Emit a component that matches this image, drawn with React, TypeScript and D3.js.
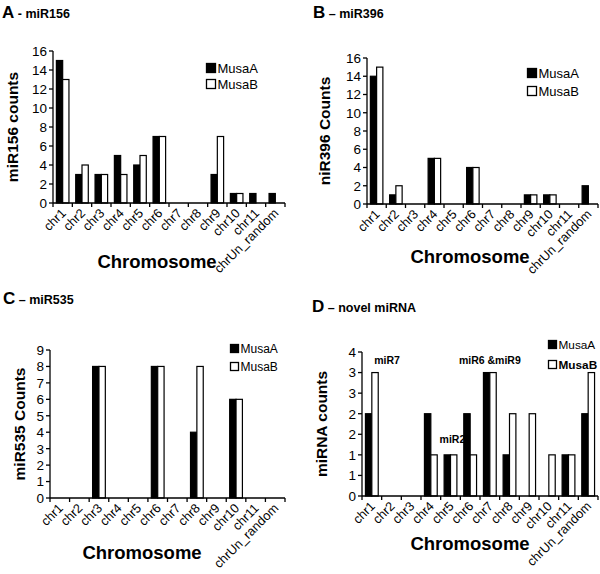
import React, { useEffect, useRef } from 'react';
import * as d3 from 'd3';

const chromosomes = ['chr1', 'chr2', 'chr3', 'chr4', 'chr5', 'chr6', 'chr7', 'chr8', 'chr9', 'chr10', 'chr11', 'chrUn_random'];
const seriesNames = ['MusaA', 'MusaB'];

const mir156A = [15, 3, 3, 5, 4, 7, 0, 0, 3, 1, 1, 1];
const mir156B = [13, 4, 3, 3, 5, 7, 0, 0, 7, 1, 0, 0];
const mir396A = [14, 1, 0, 5, 0, 4, 0, 0, 1, 1, 0, 2];
const mir396B = [15, 2, 0, 5, 0, 4, 0, 0, 1, 1, 0, 0];
const mir535A = [0, 0, 8, 0, 0, 8, 0, 4, 0, 6, 0, 0];
const mir535B = [0, 0, 8, 0, 0, 8, 0, 8, 0, 6, 0, 0];
const novelA = [2, 0, 0, 2, 1, 2, 3, 1, 0, 0, 1, 2];
const novelB = [3, 0, 0, 1, 1, 1, 3, 2, 2, 1, 1, 3];

const ticks156 = d3.range(0, 17, 2);
const ticks396 = d3.range(0, 17, 2);
const ticks535 = d3.range(0, 10, 1);
const ticksNovel = d3.range(0, 3.51, 0.5);

// labels above the novel miRNA bars: chromosome, shift in bands, count level
const novelNotes = [
  { text: 'miR7', chr: 'chr1', shift: 0.77, level: 3.2 },
  { text: 'miR6 &miR9', chr: 'chr7', shift: 0, level: 3.2 },
  { text: 'miR2', chr: 'chr5', shift: 0.1, level: 1.3 },
];

const FONT = '"Liberation Sans", Arial, Helvetica, sans-serif';

interface PanelSpec {
  ox: number;
  oy: number;
  letter: string;
  dash: string;
  name: string;
  titleX: number;
  titleY: number;
  yLabel: string;
  yLabelX: number;
  x0: number;
  x1: number;
  yTop: number;
  yBottom: number;
  yMax: number;
  ticks: number[];
  a: number[];
  b: number[];
  legendX: number;
  legendY: number;
  legendGap: number;
  legendSize: number;
  legendFont: number;
  legendBoldB?: boolean;
  xTitleX: number;
  xTitleY: number;
}

const panels: PanelSpec[] = [
  {
    ox: 0, oy: 0, letter: 'A', dash: ' - ', name: 'miR156', titleX: 2, titleY: 18,
    yLabel: 'miR156 counts', yLabelX: 18, x0: 53, x1: 285, yTop: 51, yBottom: 203,
    yMax: 16, ticks: ticks156, a: mir156A, b: mir156B,
    legendX: 206, legendY: 63, legendGap: 16, legendSize: 10, legendFont: 13,
    xTitleX: 157, xTitleY: 268,
  },
  {
    ox: 300, oy: 0, letter: 'B', dash: ' \u2013 ', name: 'miR396', titleX: 13, titleY: 18,
    yLabel: 'niR396 Counts', yLabelX: 30, x0: 67, x1: 298, yTop: 58, yBottom: 204,
    yMax: 16, ticks: ticks396, a: mir396A, b: mir396B,
    legendX: 227, legendY: 68, legendGap: 18, legendSize: 10, legendFont: 13,
    xTitleX: 170, xTitleY: 263,
  },
  {
    ox: 0, oy: 287, letter: 'C', dash: ' \u2013 ', name: 'miR535', titleX: 3, titleY: 17,
    yLabel: 'miR535 Counts', yLabelX: 25, x0: 50, x1: 285, yTop: 63, yBottom: 211,
    yMax: 9, ticks: ticks535, a: mir535A, b: mir535B,
    legendX: 230, legendY: 57, legendGap: 18, legendSize: 9, legendFont: 12,
    xTitleX: 142, xTitleY: 272,
  },
  {
    ox: 300, oy: 287, letter: 'D', dash: ' \u2013 ', name: 'novel miRNA', titleX: 12, titleY: 25,
    yLabel: 'miRNA counts', yLabelX: 27, x0: 62, x1: 298, yTop: 65, yBottom: 209,
    yMax: 3.5, ticks: ticksNovel, a: novelA, b: novelB,
    legendX: 248, legendY: 53, legendGap: 20, legendSize: 9, legendFont: 11.8, legendBoldB: true,
    xTitleX: 170, xTitleY: 263,
  },
];

type G = d3.Selection<SVGGElement, unknown, null, undefined>;

const drawPanel = (root: G, p: PanelSpec, isNovel: boolean) => {
  const g = root.append('g').attr('transform', `translate(${p.ox},${p.oy})`);

  const x = d3.scaleBand<string>()
    .domain(chromosomes)
    .range([p.x0, p.x1])
    .paddingInner(0.35)
    .paddingOuter(0.175);
  const step = x.step();
  const inner = d3.scaleBand<string>()
    .domain(seriesNames)
    .range([0, x.bandwidth()]);
  const y = d3.scaleLinear().domain([0, p.yMax]).range([p.yBottom, p.yTop]);

  // title
  const title = g.append('text')
    .attr('x', p.titleX)
    .attr('y', p.titleY)
    .attr('font-family', FONT)
    .attr('font-weight', 'bold');
  title.append('tspan').attr('font-size', 17).text(p.letter);
  title.append('tspan').attr('font-size', 12.5).attr('xml:space', 'preserve').text(p.dash + p.name);

  // novel miRNA notes sit under the bars
  if (isNovel) {
    novelNotes.forEach(n => {
      g.append('text')
        .attr('x', (x(n.chr) as number) + x.bandwidth() / 2 + n.shift * step)
        .attr('y', y(n.level))
        .attr('text-anchor', 'middle')
        .attr('font-family', FONT)
        .attr('font-weight', 'bold')
        .attr('font-size', 10.5)
        .text(n.text);
    });
  }

  // bars
  chromosomes.forEach((c, i) => {
    const vals = [p.a[i], p.b[i]];
    vals.forEach((v, j) => {
      if (v <= 0) return;
      g.append('rect')
        .attr('x', (x(c) as number) + (inner(seriesNames[j]) as number))
        .attr('y', y(v))
        .attr('width', inner.bandwidth())
        .attr('height', p.yBottom - y(v))
        .attr('fill', j === 0 ? '#000' : '#fff')
        .attr('stroke', '#000')
        .attr('stroke-width', 1.2);
    });
  });

  // y axis
  g.append('line')
    .attr('x1', p.x0).attr('x2', p.x0)
    .attr('y1', y(p.yMax)).attr('y2', p.yBottom)
    .attr('stroke', '#000').attr('stroke-width', 1.3);
  p.ticks.forEach(t => {
    g.append('line')
      .attr('x1', p.x0 - 4).attr('x2', p.x0)
      .attr('y1', y(t)).attr('y2', y(t))
      .attr('stroke', '#000').attr('stroke-width', 1.3);
    g.append('text')
      .attr('x', p.x0 - 6)
      .attr('y', y(t))
      .attr('dy', '0.36em')
      .attr('text-anchor', 'end')
      .attr('font-family', FONT)
      .attr('font-size', 13.5)
      .text(String(Math.round(t)));
  });

  // x axis
  g.append('line')
    .attr('x1', p.x0).attr('x2', p.x1)
    .attr('y1', p.yBottom).attr('y2', p.yBottom)
    .attr('stroke', '#000').attr('stroke-width', 1.3);
  d3.range(chromosomes.length + 1).forEach(k => {
    const tx = p.x0 + k * step;
    g.append('line')
      .attr('x1', tx).attr('x2', tx)
      .attr('y1', p.yBottom).attr('y2', p.yBottom + 4)
      .attr('stroke', '#000').attr('stroke-width', 1.3);
  });
  chromosomes.forEach(c => {
    const cx = (x(c) as number) + x.bandwidth() / 2;
    g.append('text')
      .attr('transform', `translate(${cx + 4},${p.yBottom + 11}) rotate(-45)`)
      .attr('text-anchor', 'end')
      .attr('font-family', FONT)
      .attr('font-size', 12.8)
      .text(c);
  });

  // axis titles
  g.append('text')
    .attr('transform', `translate(${p.yLabelX},${(p.yTop + p.yBottom) / 2}) rotate(-90)`)
    .attr('text-anchor', 'middle')
    .attr('font-family', FONT)
    .attr('font-weight', 'bold')
    .attr('font-size', 15.5)
    .text(p.yLabel);
  g.append('text')
    .attr('x', p.xTitleX)
    .attr('y', p.xTitleY)
    .attr('text-anchor', 'middle')
    .attr('font-family', FONT)
    .attr('font-weight', 'bold')
    .attr('font-size', 18.5)
    .text('Chromosome');

  // legend
  seriesNames.forEach((s, j) => {
    const ly = p.legendY + j * p.legendGap;
    g.append('rect')
      .attr('x', p.legendX + 0.5)
      .attr('y', ly + 0.5)
      .attr('width', p.legendSize - 1)
      .attr('height', p.legendSize - 1)
      .attr('fill', j === 0 ? '#000' : '#fff')
      .attr('stroke', '#000')
      .attr('stroke-width', 1.3);
    g.append('text')
      .attr('x', p.legendX + p.legendSize + 1.5)
      .attr('y', ly + p.legendSize)
      .attr('font-family', FONT)
      .attr('font-size', p.legendFont)
      .attr('font-weight', p.legendBoldB && j === 1 ? 'bold' : 'normal')
      .text(s);
  });
};

const App: React.FC = () => {
  const svgRef = useRef<SVGSVGElement>(null);

  useEffect(() => {
    document.body.style.margin = '0';
    if (!svgRef.current) return;
    d3.select(svgRef.current).selectAll('*').remove();
    const root = d3.select(svgRef.current).append('g') as G;
    panels.forEach((p, i) => drawPanel(root, p, i === 3));
  }, []);

  return (
    <svg ref={svgRef} width={600} height={574} style={{ display: 'block', background: '#fff' }} />
  );
};

export default App;
